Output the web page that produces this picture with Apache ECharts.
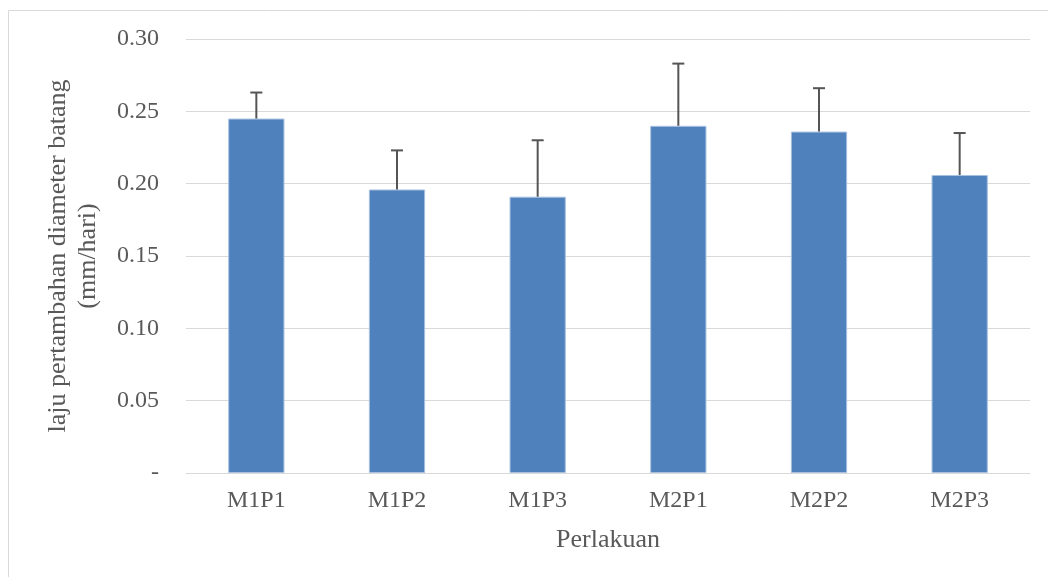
<!DOCTYPE html>
<html><head><meta charset="utf-8">
<script src="https://cdn.jsdelivr.net/npm/echarts@6/dist/echarts.min.js"></script>
<style>html,body{margin:0;padding:0;background:#fff}#c{width:1048px;height:577px}</style>
</head><body><div id="c"></div>
<script>
const categories = ['M1P1','M1P2','M1P3','M2P1','M2P2','M2P3'];
const values = [0.245, 0.196, 0.191, 0.240, 0.236, 0.206];
const errors = [0.018, 0.027, 0.039, 0.043, 0.030, 0.029];
const yTicks = {0:'-'};

const chart = echarts.init(document.getElementById('c'));
const font = '"Liberation Serif", "Times New Roman", serif';
chart.setOption({
  animation:false,
  graphic:[{type:'rect',shape:{x:8.5,y:10.5,width:1100,height:700},style:{fill:'none',stroke:'#d9d9d9',lineWidth:1},silent:true,z:-10}],
  grid:{left:186,right:18,top:39,bottom:104},
  xAxis:{type:'category',data:categories,
    axisLine:{lineStyle:{color:'#d9d9d9',width:1}},axisTick:{show:false},
    axisLabel:{color:'#595959',fontFamily:font,fontSize:24,margin:16},
    name:'Perlakuan',nameLocation:'middle',nameGap:54,
    nameTextStyle:{color:'#595959',fontFamily:font,fontSize:26}},
  yAxis:{type:'value',min:0,max:0.30,interval:0.05,
    axisLine:{show:false},axisTick:{show:false},
    splitLine:{lineStyle:{color:'#d9d9d9',width:1}},
    axisLabel:{color:'#595959',fontFamily:font,fontSize:24,margin:27,
      formatter:v=> (Math.abs(v)<1e-9 ? yTicks[0] : v.toFixed(2))},
    name:'laju pertambahan diameter batang\n(mm/hari)',nameLocation:'middle',nameGap:83,nameRotate:90,
    nameTextStyle:{color:'#595959',fontFamily:font,fontSize:26,lineHeight:30,align:'center'}},
  series:[
    {type:'bar',data:values,barWidth:'40%',
      itemStyle:{color:'#4f81bd',borderColor:'#a9c1e0',borderWidth:1}},
    {type:'custom',z:5,
      data:values.map((v,i)=>[i,v,v+errors[i]]),
      renderItem:(params,api)=>{
        const x=api.value(0);
        const p0=api.coord([x,api.value(1)]);
        const p1=api.coord([x,api.value(2)]);
        const hw=6;
        const st={stroke:'#555555',lineWidth:2};
        return {type:'group',children:[
          {type:'line',shape:{x1:p0[0],y1:p0[1],x2:p1[0],y2:p1[1]},style:st},
          {type:'line',shape:{x1:p1[0]-hw,y1:p1[1],x2:p1[0]+hw,y2:p1[1]},style:st}
        ]};
      }}
  ]
});
</script></body></html>
